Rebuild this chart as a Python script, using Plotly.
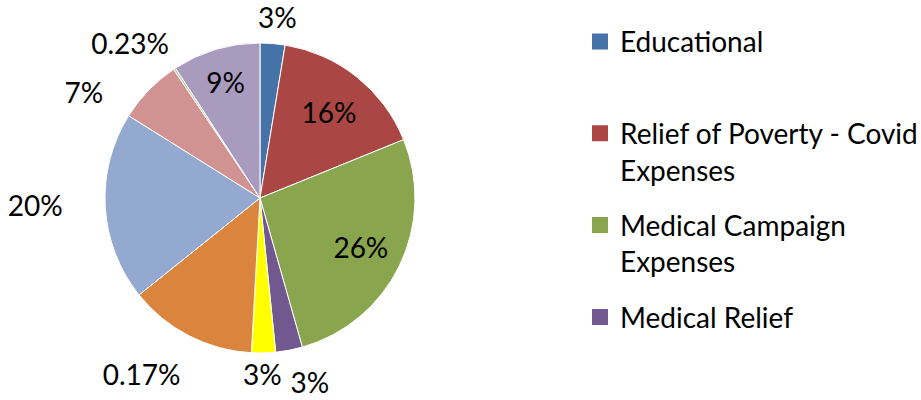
import plotly.graph_objects as go

categories = ["Educational", "Relief of Poverty - Covid Expenses", "Medical Campaign Expenses",
              "Medical Relief", "Category 5", "Category 6", "Category 7", "Category 8",
              "Category 9", "Category 10"]
values = [2.6, 16.3, 26.8, 2.8, 2.5, 13.4, 19.7, 6.7, 0.23, 9.2]
slice_labels = ["3%", "16%", "26%", "3%", "3%", "0.17%", "20%", "7%", "0.23%", "9%"]
label_positions = ["outside", "inside", "inside", "outside", "outside", "outside",
                   "outside", "outside", "outside", "inside"]
colors = ["#4572A7", "#AA4643", "#89A54E", "#71588F", "#FFFF00", "#DB843D",
          "#93A9CF", "#D19392", "#B9CD96", "#A99BBD"]
legend_names = ["Educational<br> ", "Relief of Poverty - Covid<br>Expenses",
                "Medical Campaign<br>Expenses", "Medical Relief"]

# layout: nudges (px right, px down) for data labels, each drawn by its own transparent pie layer
label_nudges = {0: (-23, -10), 1: (4, -5), 2: (21, 10), 3: (-7, 15), 4: (-29, 4),
                5: (0, 25), 6: (-34, -2), 7: (-37, 10), 8: (3, -14)}

FONT = "Lato"
W, H = 921, 400
CX, CY, R = 260, 198, 155
TEXTFONT = dict(family=FONT, size=28, color="black")


def domain(dx=0, dy=0):
    cx, cy = CX + dx, CY + dy
    return dict(x=[(cx - R) / W, (cx + R) / W], y=[(H - cy - R) / H, (H - cy + R) / H])


main_pos = [("none" if i in label_nudges else p) for i, p in enumerate(label_positions)]

fig = go.Figure()
fig.add_trace(go.Pie(
    labels=categories, values=values, text=slice_labels, textinfo="text",
    textposition=main_pos, insidetextorientation="horizontal",
    sort=False, direction="clockwise", rotation=0, automargin=False,
    marker=dict(colors=colors, line=dict(color="white", width=1)),
    textfont=TEXTFONT, domain=domain(), showlegend=False, hoverinfo="label+percent",
))
for idx, (dx, dy) in label_nudges.items():
    pos = [(label_positions[i] if i == idx else "none") for i in range(len(values))]
    fig.add_trace(go.Pie(
        labels=categories, values=values, text=slice_labels, textinfo="text",
        textposition=pos, insidetextorientation="horizontal",
        sort=False, direction="clockwise", rotation=0, automargin=False,
        marker=dict(colors=["rgba(0,0,0,0)"] * len(values), line=dict(width=0)),
        textfont=TEXTFONT, domain=domain(dx, dy), showlegend=False, hoverinfo="skip",
    ))
for i, name in enumerate(legend_names):
    fig.add_trace(go.Scatter(
        x=[None], y=[None], mode="markers", name=name,
        marker=dict(symbol="square", size=16, color=colors[i]),
        legendgroup=str(i), showlegend=True,
    ))

fig.update_layout(
    width=W, height=H, margin=dict(l=0, r=0, t=0, b=0, autoexpand=False),
    paper_bgcolor="white", plot_bgcolor="white",
    xaxis=dict(visible=False), yaxis=dict(visible=False),
    legend=dict(x=580 / W, xanchor="left", y=0.958, yanchor="top",
                font=dict(family=FONT, size=28, color="black"),
                valign="top", tracegroupgap=16, itemsizing="trace"),
    font=dict(family=FONT),
)

hide_lines = """
var gd = document.getElementById('{plot_id}');
function hideTextLines() {
  gd.querySelectorAll('path.textline').forEach(function (p) { p.style.display = 'none'; });
}
gd.on('plotly_afterplot', hideTextLines);
hideTextLines();
"""
fig.write_html("out.html", post_script=hide_lines)
